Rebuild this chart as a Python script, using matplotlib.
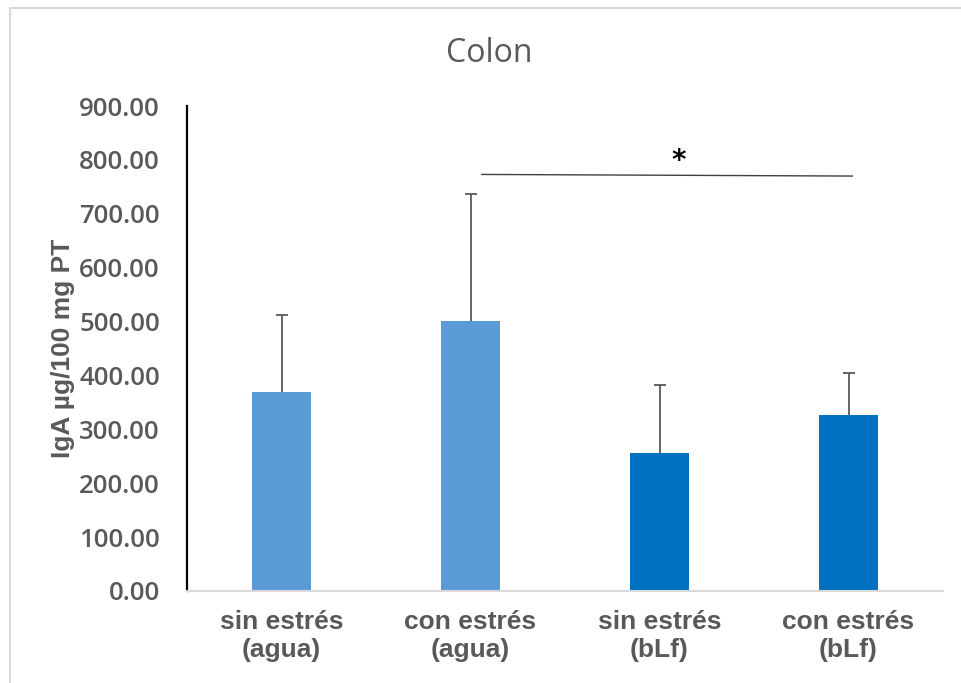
import matplotlib
matplotlib.use("Agg")
import matplotlib.pyplot as plt
from matplotlib.patches import Rectangle

categories = ["sin estrés\n(agua)", "con estrés\n(agua)", "sin estrés\n(bLf)", "con estrés\n(bLf)"]
means = [370, 501, 257, 327]
err_upper = [143, 235, 126, 78]
bar_colors = ["#5B9BD5", "#5B9BD5", "#0070C0", "#0070C0"]
yticks = [0, 100, 200, 300, 400, 500, 600, 700, 800, 900]
ytick_labels = [f"{v:.2f}" for v in yticks]
sig_x = [1.06, 3.02]
sig_y = [773, 770]

W, H = 961, 683
fig = plt.figure(figsize=(W / 100, H / 100), dpi=100)
ax = fig.add_axes([187 / W, 1 - 591 / H, (943 - 187) / W, (591 - 106) / H])

x = list(range(len(categories)))
ax.bar(x, means, width=0.31, color=bar_colors, zorder=2)
_, caps, _ = ax.errorbar(x, means, yerr=[[0] * 4, err_upper], fmt="none", ecolor="#595959",
                         elinewidth=1.3, capsize=4.5, capthick=1.3, zorder=3)
if len(caps) == 2:
    caps[0].set_visible(False)

ax.set_xlim(-0.5, 3.5)
ax.set_ylim(0, 900)
ax.set_yticks(yticks)
ax.set_yticklabels(ytick_labels, fontfamily="Open Sans", fontweight="semibold",
                   fontsize=18.5, color="#595959")
ax.set_xticks(x)
ax.set_xticklabels(categories, fontfamily="Liberation Sans", fontweight="bold",
                   fontsize=19, color="#595959", linespacing=1.2)
ax.tick_params(axis="both", length=0)
ax.tick_params(axis="y", pad=19.5)
ax.tick_params(axis="x", pad=14)

for s in ["top", "right"]:
    ax.spines[s].set_visible(False)
ax.spines["left"].set_color("black")
ax.spines["left"].set_linewidth(1.6)
ax.spines["bottom"].set_color("#D9D9D9")
ax.spines["bottom"].set_linewidth(1.5)

ax.set_ylabel("IgA µg/100 mg PT", fontfamily="Liberation Sans", fontweight="bold",
              fontsize=19, color="#595959", labelpad=3)

ax.plot(sig_x, sig_y, color="#404040", lw=1.0, zorder=3)
ax.text(2.10, 798, "*", ha="center", va="center", fontsize=20,
        fontweight="bold", color="black", fontfamily="DejaVu Sans")

fig.text(489 / W, 1 - 54 / H, "Colon", ha="center", va="center",
         fontfamily="Open Sans", fontsize=23, color="#595959")

fig.patches.append(Rectangle((10 / W, -0.1), 1.2, (H - 8) / H + 0.1,
                             transform=fig.transFigure, fill=False,
                             edgecolor="#D9D9D9", lw=1.5))

fig.savefig("out.png", dpi=100, facecolor="white")
